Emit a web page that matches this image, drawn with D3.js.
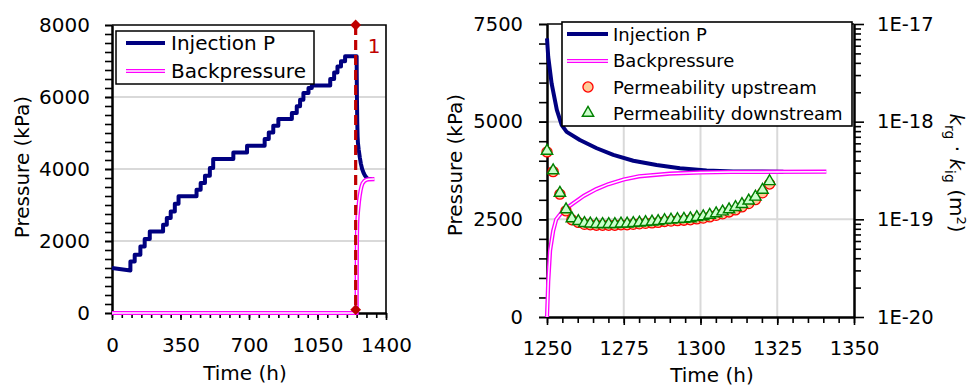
<!DOCTYPE html>
<html>
<head>
<meta charset="utf-8">
<script src="https://cdn.jsdelivr.net/npm/d3@7/dist/d3.min.js"></script>
<style>
body { margin: 0; background: #fff; }
svg { display: block; font-family: "DejaVu Sans", sans-serif; }
.axis .domain { stroke: #000; stroke-width: 2; }
.axis .tick line { stroke: #000; stroke-width: 1.6; }
.axis .tick text { font-size: 20px; fill: #000; font-family: "DejaVu Sans", sans-serif; }
.grid { stroke: #d9d9d9; stroke-width: 2; }
</style>
</head>
<body>
<svg id="chart" width="973" height="389"></svg>
<script>
// ---- data ----
// left panel, injection pressure before the event (stairs)
var injStartTime = [0, 94];
var injStartPressure = [1250, 1183];
var injStepTime = [94, 116, 145, 167, 193, 261, 280, 300, 321, 340, 432, 453, 475, 500, 517,
	620, 690, 780, 801, 824, 850, 919, 944, 961, 978, 1004, 1021, 1115, 1135, 1152, 1170, 1191];
var injStepPressure = [1430, 1620, 1850, 2055, 2267, 2453, 2639, 2822, 3036, 3240, 3425, 3611, 3814, 4028, 4278,
	4461, 4647, 4833, 5017, 5203, 5390, 5556, 5740, 5925, 6111, 6250, 6320, 6500, 6680, 6850, 6990, 7130];

// after the event (both panels)
var injTailTime = [1250, 1250.4, 1251.5, 1253.2, 1254.8, 1256.4, 1260.7, 1266.2, 1271.6, 1278.1, 1285.7, 1293.3, 1302, 1310.7, 1327];
var injTailPressure = [7130, 6660, 5980, 5300, 4910, 4740, 4530, 4320, 4150, 4000, 3890, 3810, 3750, 3725, 3720];

var backFlatTime = [0, 1250];
var backFlatPressure = [0, 0];
var backTime = [1250, 1250.4, 1251, 1252, 1253, 1255, 1258, 1262, 1266, 1270, 1275, 1280, 1290, 1300, 1310, 1341];
var backPressure = [0, 900, 1700, 2200, 2500, 2700, 2880, 3100, 3270, 3400, 3520, 3600, 3670, 3700, 3712, 3720];

var permTime = [1250, 1252, 1254.2, 1256.2, 1258.1, 1260.2, 1262.2, 1264.1, 1266.1, 1268.1, 1270.1, 1272.1,
	1274.1, 1276.1, 1278.1, 1280.1, 1282.1, 1284.2, 1286.2, 1288.3, 1290.4, 1292.5, 1294.6, 1296.7,
	1298.8, 1300.9, 1303, 1305.1, 1307.2, 1309.3, 1311.4, 1313.5, 1315.7, 1317.9, 1320.2, 1322.5];
var permUpstream = [4.9e-19, 3.08e-19, 1.81e-19, 1.22e-19, 9.9e-20, 9.3e-20, 8.9e-20, 8.8e-20, 8.7e-20, 8.7e-20, 8.7e-20, 8.7e-20,
	8.8e-20, 8.8e-20, 8.9e-20, 9.0e-20, 9.1e-20, 9.2e-20, 9.3e-20, 9.5e-20, 9.6e-20, 9.7e-20, 9.8e-20, 9.9e-20,
	1.01e-19, 1.03e-19, 1.06e-19, 1.10e-19, 1.14e-19, 1.19e-19, 1.25e-19, 1.34e-19, 1.45e-19, 1.59e-19, 1.87e-19, 2.30e-19];
var permDownstream = [5.01e-19, 3.16e-19, 1.86e-19, 1.26e-19, 1.02e-19, 9.55e-20, 9.12e-20, 9.02e-20, 8.91e-20, 8.91e-20, 8.91e-20, 8.91e-20,
	9.02e-20, 9.02e-20, 9.12e-20, 9.23e-20, 9.33e-20, 9.44e-20, 9.55e-20, 9.77e-20, 9.89e-20, 1.0e-19, 1.01e-19, 1.02e-19,
	1.05e-19, 1.07e-19, 1.11e-19, 1.15e-19, 1.20e-19, 1.26e-19, 1.33e-19, 1.43e-19, 1.55e-19, 1.70e-19, 2.00e-19, 2.45e-19];

var eventTime = [1245, 1245];
var eventPressure = [8000, 92];
var eventLabel = "1";

var leftTimeTicks = [0, 350, 700, 1050, 1400];
var leftPressureTicks = [0, 2000, 4000, 6000, 8000];
var rightTimeTicks = [1250, 1275, 1300, 1325, 1350];
var rightPressureTicks = [0, 2500, 5000, 7500];
var permTicks = [1e-20, 1e-19, 1e-18, 1e-17];
var permTickLabels = ["1E-20", "1E-19", "1E-18", "1E-17"];

var legendLeft = ["Injection P", "Backpressure"];
var legendRight = ["Injection P", "Backpressure", "Permeability upstream", "Permeability downstream"];

var NAVY = "#000080", MAGENTA = "#ff00ff", DARKRED = "#c00000";

var svg = d3.select("#chart");

function zip(a, b) { return a.map(function(v, i) { return [v, b[i]]; }); }

function doubleLine(g, line, pts)
{
	g.append("path").attr("d", line(pts)).attr("fill", "none")
		.attr("stroke", MAGENTA).attr("stroke-width", 4.2);
	g.append("path").attr("d", line(pts)).attr("fill", "none")
		.attr("stroke", "#fff").attr("stroke-width", 1.5);
}

function drawLeft()
{
	var x = d3.scaleLinear().domain([0, 1400]).range([112, 386]);
	var y = d3.scaleLinear().domain([0, 8000]).range([313, 25]);
	var g = svg.append("g").attr("class", "left");

	leftPressureTicks.filter(function(v) { return v > 0 && v < 8000; }).forEach(function(v)
	{
		g.append("line").attr("class", "grid")
			.attr("x1", x(0)).attr("x2", x(1400)).attr("y1", y(v)).attr("y2", y(v));
	});

	// frame top + right
	g.append("path").attr("d", "M" + x(0) + "," + y(8000) + "H" + x(1400) + "V" + y(0))
		.attr("fill", "none").attr("stroke", "#000").attr("stroke-width", 1.6);

	g.append("g").attr("class", "axis").attr("transform", "translate(0," + y(0) + ")")
		.call(d3.axisBottom(x).tickValues(d3.range(0, 1401, 50)).tickFormat("").tickSize(5).tickSizeOuter(0));
	var gx = g.append("g").attr("class", "axis").attr("transform", "translate(0," + y(0) + ")")
		.call(d3.axisBottom(x).tickValues(leftTimeTicks).tickFormat(d3.format("d")).tickSize(7).tickSizeOuter(0));
	gx.selectAll("text").attr("y", 39).attr("dy", 0);

	g.append("g").attr("class", "axis").attr("transform", "translate(" + x(0) + ",0)")
		.call(d3.axisLeft(y).tickValues(d3.range(0, 8001, 250)).tickFormat("").tickSize(7).tickSizeOuter(0));
	var gy = g.append("g").attr("class", "axis").attr("transform", "translate(" + x(0) + ",0)")
		.call(d3.axisLeft(y).tickValues(leftPressureTicks).tickFormat(d3.format("d")).tickSize(7).tickSizeOuter(0));
	gy.selectAll("text").attr("x", -22);

	var line = d3.line().x(function(d) { return x(d[0]); }).y(function(d) { return y(d[1]); });

	// stairs -> corner points
	var inj = zip(injStartTime, injStartPressure);
	for (var i = 0; i < injStepTime.length; i++)
	{
		var next = (i + 1 < injStepTime.length) ? injStepTime[i + 1] : injTailTime[0];
		inj.push([injStepTime[i], injStepPressure[i]]);
		inj.push([next, injStepPressure[i]]);
	}
	inj = inj.concat(zip(injTailTime, injTailPressure).slice(1));

	g.append("path").attr("d", line(inj)).attr("fill", "none")
		.attr("stroke", NAVY).attr("stroke-width", 4).attr("stroke-linejoin", "round");

	doubleLine(g, line, zip(backFlatTime, backFlatPressure).concat(zip(backTime, backPressure).slice(1)));

	// event marker
	g.append("line")
		.attr("x1", x(eventTime[0])).attr("x2", x(eventTime[1]))
		.attr("y1", y(eventPressure[0])).attr("y2", y(eventPressure[1]))
		.attr("stroke", DARKRED).attr("stroke-width", 3.2).attr("stroke-dasharray", "10,5");
	zip(eventTime, eventPressure).forEach(function(d)
	{
		g.append("path").attr("d", d3.symbol().type(d3.symbolSquare).size(58)())
			.attr("transform", "translate(" + x(d[0]) + "," + y(d[1]) + ") rotate(45)")
			.attr("fill", DARKRED);
	});
	g.append("text").text(eventLabel)
		.attr("x", x(eventTime[0]) + 12).attr("y", 53)
		.style("font-size", "20px").attr("fill", DARKRED);

	// legend
	var lg = g.append("g");
	lg.append("rect").attr("x", 116).attr("y", 31).attr("width", 198).attr("height", 53)
		.attr("fill", "#fff").attr("stroke", "#000").attr("stroke-width", 1.5);
	lg.append("line").attr("x1", 126).attr("x2", 165).attr("y1", 43).attr("y2", 43)
		.attr("stroke", NAVY).attr("stroke-width", 4);
	doubleLine(lg, d3.line(), [[126, 71], [165, 71]]);
	legendLeft.forEach(function(t, i)
	{
		lg.append("text").text(t).attr("x", 171).attr("y", 50 + i * 28).style("font-size", "20px");
	});

	g.append("text").text("Time (h)")
		.attr("x", 245).attr("y", 380).attr("text-anchor", "middle").style("font-size", "20px");
	g.append("text").text("Pressure (kPa)")
		.attr("transform", "translate(29,167) rotate(-90)").attr("text-anchor", "middle").style("font-size", "20px");
}

function drawRight()
{
	var x = d3.scaleLinear().domain([1250, 1350]).range([547, 854]);
	var y = d3.scaleLinear().domain([0, 7500]).range([317, 24]);
	var k = d3.scaleLog().domain([1e-20, 1e-17]).range([317, 24]);
	var g = svg.append("g").attr("class", "right");

	[1275, 1300, 1325].forEach(function(v)
	{
		g.append("line").attr("class", "grid")
			.attr("x1", x(v)).attr("x2", x(v)).attr("y1", y(0)).attr("y2", y(7500));
	});
	[2500, 5000].forEach(function(v)
	{
		g.append("line").attr("class", "grid")
			.attr("x1", x(1250)).attr("x2", x(1350)).attr("y1", y(v)).attr("y2", y(v));
	});

	g.append("line").attr("x1", x(1250)).attr("x2", x(1350)).attr("y1", y(7500)).attr("y2", y(7500))
		.attr("stroke", "#000").attr("stroke-width", 1.5);

	g.append("g").attr("class", "axis").attr("transform", "translate(0," + y(0) + ")")
		.call(d3.axisBottom(x).tickValues(d3.range(1250, 1351, 5)).tickFormat("").tickSize(6).tickSizeOuter(0));
	var gx = g.append("g").attr("class", "axis").attr("transform", "translate(0," + y(0) + ")")
		.call(d3.axisBottom(x).tickValues(rightTimeTicks).tickFormat(d3.format("d")).tickSize(8).tickSizeOuter(0));
	gx.selectAll("text").attr("y", 38).attr("dy", 0).style("font-size", "19.5px");

	g.append("g").attr("class", "axis").attr("transform", "translate(" + x(1250) + ",0)")
		.call(d3.axisLeft(y).tickValues(d3.range(0, 7501, 500)).tickFormat("").tickSize(8).tickSizeOuter(0));
	var gy = g.append("g").attr("class", "axis").attr("transform", "translate(" + x(1250) + ",0)")
		.call(d3.axisLeft(y).tickValues(rightPressureTicks).tickFormat(d3.format("d")).tickSize(8).tickSizeOuter(0));
	gy.selectAll("text").attr("x", -24).style("font-size", "19.5px");

	var minor = [];
	for (var e = -20; e < -17; e++)
		for (var m = 2; m < 10; m++) minor.push(m * Math.pow(10, e));
	g.append("g").attr("class", "axis").attr("transform", "translate(" + x(1350) + ",0)")
		.call(d3.axisRight(k).tickValues(minor).tickFormat("").tickSize(7).tickSizeOuter(0));
	var gk = g.append("g").attr("class", "axis").attr("transform", "translate(" + x(1350) + ",0)")
		.call(d3.axisRight(k).tickValues(permTicks).tickFormat(function(d, i) { return permTickLabels[i]; })
			.tickSize(10).tickSizeOuter(0));
	gk.selectAll("text").attr("x", 23).style("font-size", "19.5px");

	var line = d3.line().x(function(d) { return x(d[0]); }).y(function(d) { return y(d[1]); });
	g.append("path").attr("d", line(zip(injTailTime, injTailPressure))).attr("fill", "none")
		.attr("stroke", NAVY).attr("stroke-width", 4).attr("stroke-linejoin", "round");
	doubleLine(g, line, zip(backTime, backPressure));

	var circle = d3.symbol().type(d3.symbolCircle).size(80)();
	var tri = d3.symbol().type(d3.symbolTriangle).size(56)();

	g.selectAll(".up").data(zip(permTime, permUpstream)).enter().append("path")
		.attr("class", "up").attr("d", circle)
		.attr("transform", function(d) { return "translate(" + x(d[0]) + "," + k(d[1]) + ")"; })
		.attr("fill", "#ffcc99").attr("stroke", "#ff0000").attr("stroke-width", 1.3);
	g.selectAll(".down").data(zip(permTime, permDownstream)).enter().append("path")
		.attr("class", "down").attr("d", tri)
		.attr("transform", function(d) { return "translate(" + x(d[0]) + "," + k(d[1]) + ")"; })
		.attr("fill", "#ccffcc").attr("stroke", "#008000").attr("stroke-width", 1.4);

	// legend
	var lg = g.append("g");
	lg.append("rect").attr("x", 562).attr("y", 22).attr("width", 290).attr("height", 104)
		.attr("fill", "#fff").attr("stroke", "#000").attr("stroke-width", 1.6);
	lg.append("line").attr("x1", 567).attr("x2", 608).attr("y1", 34).attr("y2", 34)
		.attr("stroke", NAVY).attr("stroke-width", 4);
	doubleLine(lg, d3.line(), [[567, 61], [608, 61]]);
	lg.append("path").attr("d", circle).attr("transform", "translate(588,87)")
		.attr("fill", "#ffcc99").attr("stroke", "#ff0000").attr("stroke-width", 1.3);
	lg.append("path").attr("d", tri).attr("transform", "translate(588,113)")
		.attr("fill", "#ccffcc").attr("stroke", "#008000").attr("stroke-width", 1.4);
	legendRight.forEach(function(t, i)
	{
		lg.append("text").text(t).attr("x", 613).attr("y", 41 + i * 26.3).style("font-size", "18px");
	});

	g.append("text").text("Time (h)")
		.attr("x", 712).attr("y", 382).attr("text-anchor", "middle").style("font-size", "20px");
	g.append("text").text("Pressure (kPa)")
		.attr("transform", "translate(462,165) rotate(-90)").attr("text-anchor", "middle").style("font-size", "20px");

	var t = g.append("text").attr("transform", "translate(950,173) rotate(90)")
		.attr("text-anchor", "middle").style("font-size", "20px");
	t.append("tspan").text("k").style("font-style", "italic");
	t.append("tspan").text("rg").attr("dy", 5).style("font-size", "14px");
	t.append("tspan").text(" \u00b7 ").attr("dy", -5);
	t.append("tspan").text("k").style("font-style", "italic");
	t.append("tspan").text("ig").attr("dy", 5).style("font-size", "14px");
	t.append("tspan").text(" (m").attr("dy", -5);
	t.append("tspan").text("2").attr("dy", -7).style("font-size", "13px");
	t.append("tspan").text(")").attr("dy", 7);
}

drawLeft();
drawRight();
</script>
</body>
</html>
